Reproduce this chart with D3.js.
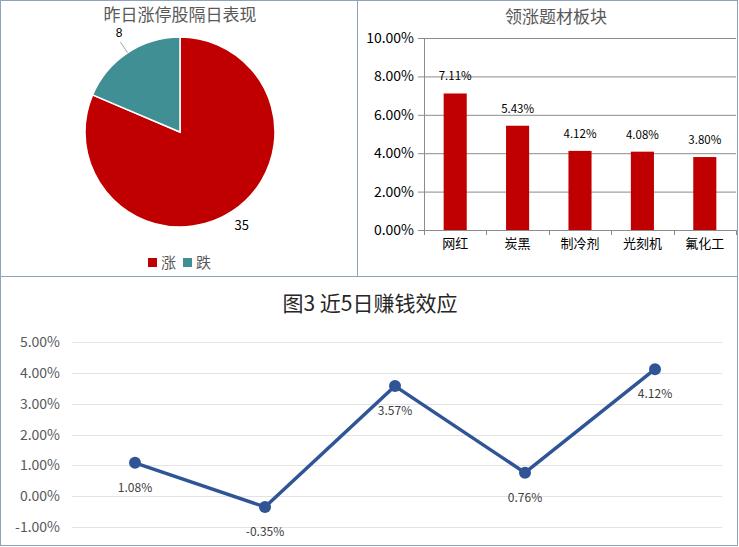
<!DOCTYPE html>
<html>
<head>
<meta charset="utf-8">
<script src="https://cdn.jsdelivr.net/npm/d3@7"></script>
<style>
  body { margin: 0; background: #fff; }
  svg { display: block; font-family: "Noto Sans CJK SC", "Liberation Sans", sans-serif; }
</style>
</head>
<body>
<svg id="chart" width="739" height="547"></svg>
<script>
// pie data
var pieLabels = ["涨", "跌"];
var pieValues = [35, 8];
var pieColors = ["#c00000", "#3f8f94"];

// bar data
var barCats = ["网红", "炭黑", "制冷剂", "光刻机", "氟化工"];
var barValues = [7.11, 5.43, 4.12, 4.08, 3.80];
var barTicks = [0, 2, 4, 6, 8, 10];

// line data (5 days)
var lineDays = ["1", "2", "3", "4", "5"];
var lineValues = [1.08, -0.35, 3.57, 0.76, 4.12];
var lineTicks = [-1, 0, 1, 2, 3, 4, 5];

var svg = d3.select("#chart");
var borderCol = "#8da3bd";

// panel borders
svg.append("rect").attr("x", 0.5).attr("y", 0.5).attr("width", 357).attr("height", 276)
    .attr("fill", "none").attr("stroke", borderCol);
svg.append("rect").attr("x", 357.5).attr("y", 0.5).attr("width", 380).attr("height", 276)
    .attr("fill", "none").attr("stroke", borderCol);
svg.append("rect").attr("x", 0.5).attr("y", 276.5).attr("width", 737).attr("height", 269)
    .attr("fill", "none").attr("stroke", borderCol);

// ---------- pie ----------
var pieG = svg.append("g").attr("transform", "translate(180,132)");
var r = 95;
var pie = d3.pie().sort(null)(pieValues);
var arc = d3.arc().innerRadius(0).outerRadius(r);

pieG.selectAll("path.slice")
    .data(pie)
    .enter().append("path")
    .attr("class", "slice")
    .attr("d", arc)
    .attr("fill", function(d, i) { return pieColors[i]; })
    .attr("stroke", "#fff")
    .attr("stroke-width", 1.5);

// label for the big slice
var midBig = (pie[0].startAngle + pie[0].endAngle) / 2;
pieG.append("text")
    .attr("x", 112 * Math.sin(midBig))
    .attr("y", -112 * Math.cos(midBig) + 5)
    .attr("text-anchor", "middle")
    .attr("font-size", 13)
    .attr("fill", "#000")
    .text(pieValues[0]);

// label for the small slice with leader line
var midSmall = (pie[1].startAngle + pie[1].endAngle) / 2;
pieG.append("line")
    .attr("x1", r * Math.sin(midSmall)).attr("y1", -r * Math.cos(midSmall))
    .attr("x2", 108 * Math.sin(midSmall)).attr("y2", -108 * Math.cos(midSmall))
    .attr("stroke", "#a6a6a6").attr("stroke-width", 1);
pieG.append("text")
    .attr("x", 114 * Math.sin(midSmall) + 2)
    .attr("y", -114 * Math.cos(midSmall))
    .attr("text-anchor", "middle")
    .attr("font-family", "Liberation Sans, sans-serif")
    .attr("font-size", 12)
    .attr("fill", "#000")
    .text(pieValues[1]);

svg.append("text")
    .attr("x", 180).attr("y", 21)
    .attr("text-anchor", "middle")
    .attr("font-size", 17)
    .attr("fill", "#595959")
    .text("昨日涨停股隔日表现");

// legend
var legX = [148, 183];
pieLabels.forEach(function(lbl, i) {
    svg.append("rect").attr("x", legX[i]).attr("y", 258).attr("width", 9).attr("height", 9)
        .attr("fill", pieColors[i]);
    svg.append("text").attr("x", legX[i] + 13).attr("y", 268)
        .attr("font-size", 15).attr("fill", "#595959").text(lbl);
});

// ---------- bar chart ----------
var bx = d3.scaleBand().domain(barCats).range([424, 736]).paddingInner(0.63).paddingOuter(0.315);
var by = d3.scaleLinear().domain([0, 10]).range([230, 38]);
var barG = svg.append("g");

svg.append("text")
    .attr("x", 556).attr("y", 23)
    .attr("text-anchor", "middle")
    .attr("font-size", 17)
    .attr("fill", "#595959")
    .text("领涨题材板块");

barG.selectAll("line.grid")
    .data(barTicks)
    .enter().append("line")
    .attr("x1", 418).attr("x2", 736)
    .attr("y1", function(d) { return by(d) + 0.5; })
    .attr("y2", function(d) { return by(d) + 0.5; })
    .attr("stroke", "#8c8c8c").attr("stroke-width", 1);

barG.selectAll("text.ytick")
    .data(barTicks)
    .enter().append("text")
    .attr("x", 414)
    .attr("y", function(d) { return by(d) + 5; })
    .attr("text-anchor", "end")
    .attr("font-size", 14)
    .attr("fill", "#000")
    .text(function(d) { return d.toFixed(2) + "%"; });

barG.append("line").attr("x1", 424.5).attr("x2", 424.5).attr("y1", 38).attr("y2", 230)
    .attr("stroke", "#8c8c8c");

// category boundary ticks
var step = bx.step();
d3.range(barCats.length + 1).forEach(function(i) {
    var xx = Math.round(424 + i * step) + 0.5;
    barG.append("line").attr("x1", xx).attr("x2", xx).attr("y1", 230).attr("y2", 235)
        .attr("stroke", "#8c8c8c");
});

barG.selectAll("rect.bar")
    .data(barValues)
    .enter().append("rect")
    .attr("x", function(d, i) { return bx(barCats[i]); })
    .attr("width", bx.bandwidth())
    .attr("y", function(d) { return by(d); })
    .attr("height", function(d) { return by(0) - by(d); })
    .attr("fill", "#c00000");

barG.selectAll("text.val")
    .data(barValues)
    .enter().append("text")
    .attr("x", function(d, i) { return bx(barCats[i]) + bx.bandwidth() / 2; })
    .attr("y", function(d) { return by(d) - 13; })
    .attr("text-anchor", "middle")
    .attr("font-size", 11.5)
    .attr("fill", "#000")
    .text(function(d) { return d.toFixed(2) + "%"; });

barG.selectAll("text.cat")
    .data(barCats)
    .enter().append("text")
    .attr("x", function(d) { return bx(d) + bx.bandwidth() / 2; })
    .attr("y", 248)
    .attr("text-anchor", "middle")
    .attr("font-size", 13)
    .attr("fill", "#000")
    .text(function(d) { return d; });

// ---------- line chart ----------
var lx = d3.scaleBand().domain(lineDays).range([70, 720]);
var ly = d3.scaleLinear().domain([-1, 5]).range([527, 342]);
var lineG = svg.append("g");

svg.append("text")
    .attr("x", 370).attr("y", 311)
    .attr("text-anchor", "middle")
    .attr("font-size", 21)
    .attr("fill", "#262626")
    .text("图3 近5日赚钱效应");

lineG.selectAll("line.grid")
    .data(lineTicks)
    .enter().append("line")
    .attr("x1", 72).attr("x2", 722)
    .attr("y1", function(d) { return Math.round(ly(d)) + 0.5; })
    .attr("y2", function(d) { return Math.round(ly(d)) + 0.5; })
    .attr("stroke", "#e3e3e3").attr("stroke-width", 1);

lineG.selectAll("text.ytick")
    .data(lineTicks)
    .enter().append("text")
    .attr("x", 60)
    .attr("y", function(d) { return ly(d) + 5; })
    .attr("text-anchor", "end")
    .attr("font-size", 14)
    .attr("fill", "#595959")
    .text(function(d) { return d.toFixed(2) + "%"; });

var cx = function(d, i) { return lx(lineDays[i]) + lx.bandwidth() / 2; };

lineG.append("path")
    .datum(lineValues)
    .attr("d", d3.line().x(cx).y(function(d) { return ly(d); }))
    .attr("fill", "none")
    .attr("stroke", "#2f5597")
    .attr("stroke-width", 3.5)
    .attr("stroke-linejoin", "round");

lineG.selectAll("circle")
    .data(lineValues)
    .enter().append("circle")
    .attr("cx", cx)
    .attr("cy", function(d) { return ly(d); })
    .attr("r", 6)
    .attr("fill", "#2f5597");

lineG.selectAll("text.val")
    .data(lineValues)
    .enter().append("text")
    .attr("x", cx)
    .attr("y", function(d) { return ly(d) + 29; })
    .attr("text-anchor", "middle")
    .attr("font-size", 12)
    .attr("fill", "#404040")
    .text(function(d) { return d.toFixed(2) + "%"; });
</script>
</body>
</html>
